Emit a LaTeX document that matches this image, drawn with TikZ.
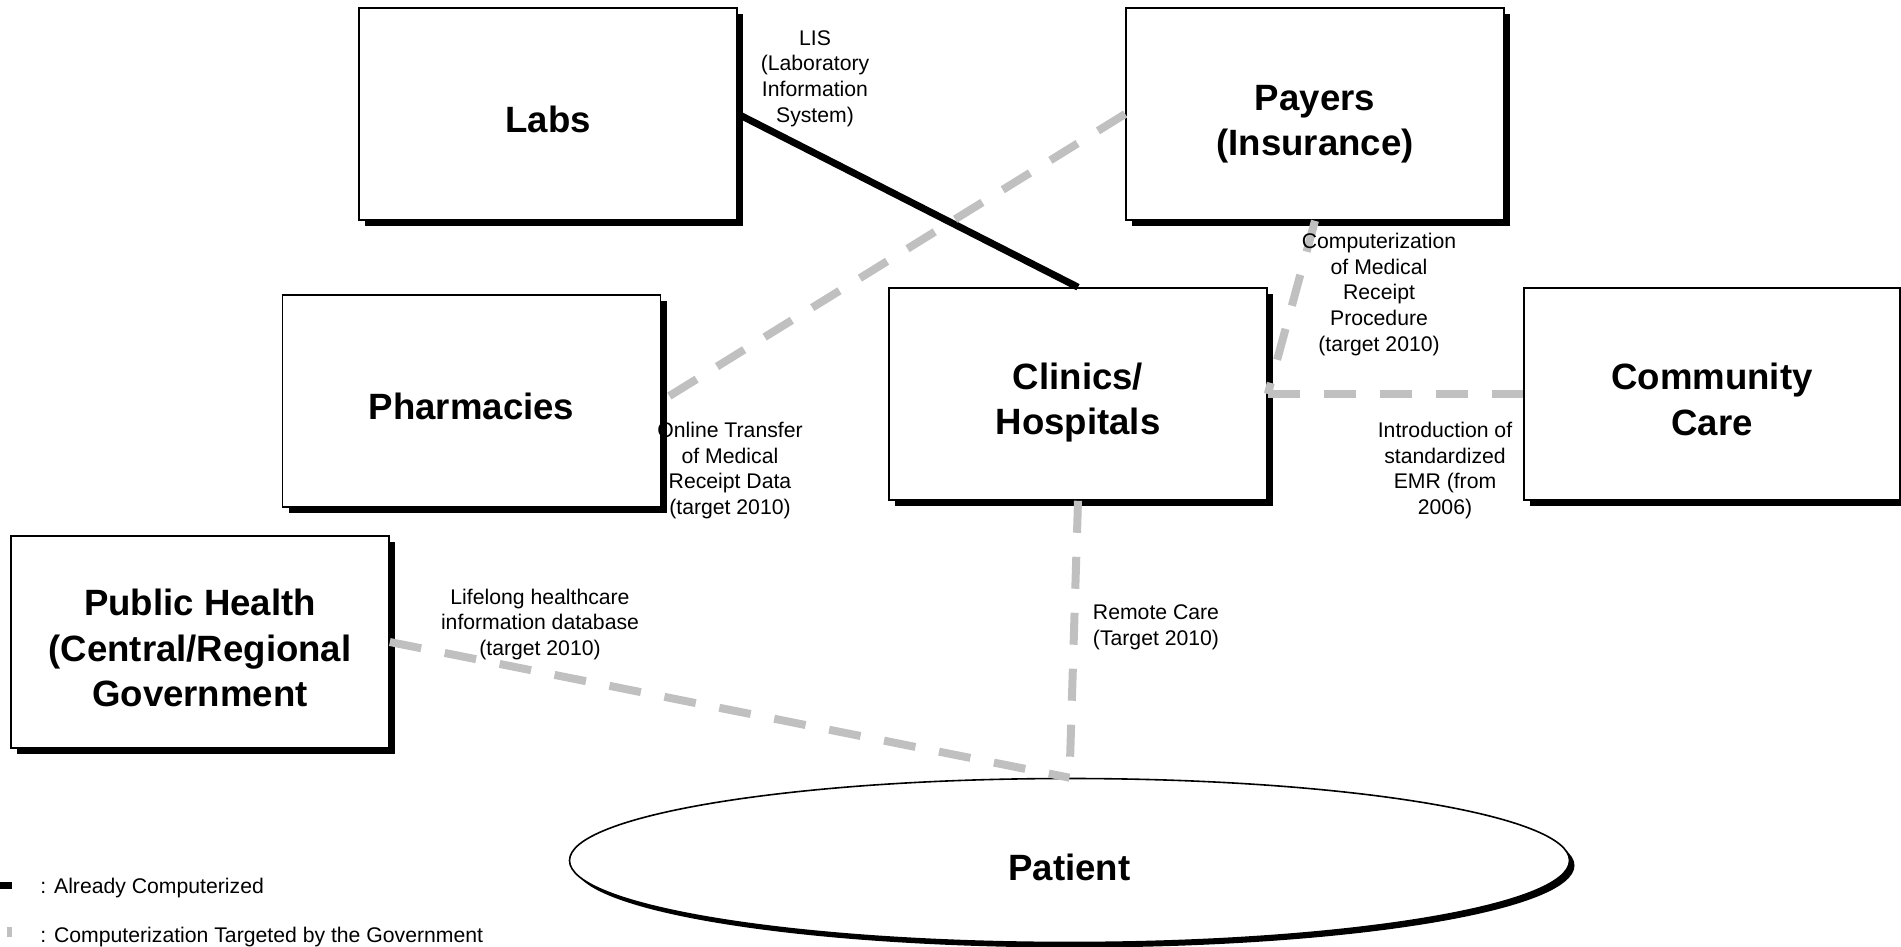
\documentclass[tikz,border=0pt]{standalone}
\usepackage{fontspec}
\setmainfont{Liberation Sans}
\usetikzlibrary{shapes.geometric,shadows}
\definecolor{planned}{HTML}{C0C0C0}
\newcommand\entfont{\fontsize{18.3pt}{22.7pt}\bfseries\selectfont}
\newcommand\notefont{\fontsize{10.6pt}{12.8pt}\selectfont}
% invisible strut on a title's first line: sets the title a little below the middle
\newcommand\headroom[1]{\rule{0pt}{#1}}
\begin{document}
\begin{tikzpicture}[x=0.5pt,y=-0.5pt,
  entity/.style={draw=black, line width=0.8pt, fill=white,
    minimum width=189pt, minimum height=106pt, inner sep=0pt,
    align=center, font=\entfont,
    drop shadow={shadow xshift=3pt, shadow yshift=-3pt, fill=black, opacity=1}},
  person/.style={ellipse, draw=black, line width=0.8pt, fill=white,
    minimum width=500pt, minimum height=82pt, inner sep=0pt, font=\entfont,
    drop shadow={shadow xshift=2.5pt, shadow yshift=-2.5pt, fill=black, opacity=1}},
  note/.style={align=center, font=\notefont, inner sep=0pt},
  done/.style={draw=black, line width=3.5pt},
  planned link/.style={draw=planned, line width=4pt, dash pattern=on 16pt off 12pt},
]
\useasboundingbox (0,0) rectangle (1901,947);

% organisations
\node[entity] (labs) at (548,114) {\headroom{18.2pt}Labs};
\node[entity] (pay)  at (1315,114) {\headroom{22.5pt}Payers\\(Insurance)};
\node[entity] (pha)  at (471.5,401) {\headroom{18.2pt}Pharmacies};
\node[entity] (cli)  at (1078,394) {\headroom{21.5pt}Clinics/\\Hospitals};
\node[entity, minimum width=188pt] (com) at (1712,394) {\headroom{18.8pt}Community\\Care};
\node[entity] (pub)  at (200,642) {\headroom{19.3pt}Public Health\\(Central/Regional\\Government};
\node[person] (pat)  at (1069.5,860.5) {\headroom{20.3pt}Patient};

% connections
\draw[done] (labs.east) -- (cli.north);
\draw[planned link] (pay.west) -- (pha.east);
\draw[planned link] (pay.south) -- (cli.east);
\draw[planned link] (cli.east) -- (com.west);
\draw[planned link] (cli.south) -- (pat.north);
\draw[planned link] (pub.east) -- (pat.north);

% connection notes
\node[note] (lis)    at (815,78.5)  {LIS\\(Laboratory\\Information\\System)};
\node[note] (rcpt)   at (1379,294.5) {Computerization\\of Medical\\Receipt\\Procedure\\(target 2010)};
\node[note] (online) at (730,470.5) {Online Transfer\\of Medical\\Receipt Data\\(target 2010)};
\node[note] (emr)    at (1445,470.5) {Introduction of\\standardized\\EMR (from\\2006)};
\node[note] (life)   at (540,624.5) {Lifelong healthcare\\information database\\(target 2010)};
\node[note] (remote) at (1156,627) {Remote Care\\(Target 2010)};

% legend
\coordinate (k1a) at (0,885);
\coordinate (k1b) at (12,885);
\draw[done] (k1a) -- (k1b);
\fill[planned] (7,927) rectangle (12,937);
\node[note, anchor=west] (leg1) at (40,888.5) {: Already Computerized};
\node[note, anchor=west] (leg2) at (40,937.5) {: Computerization Targeted by the Government};
\end{tikzpicture}
\end{document}
